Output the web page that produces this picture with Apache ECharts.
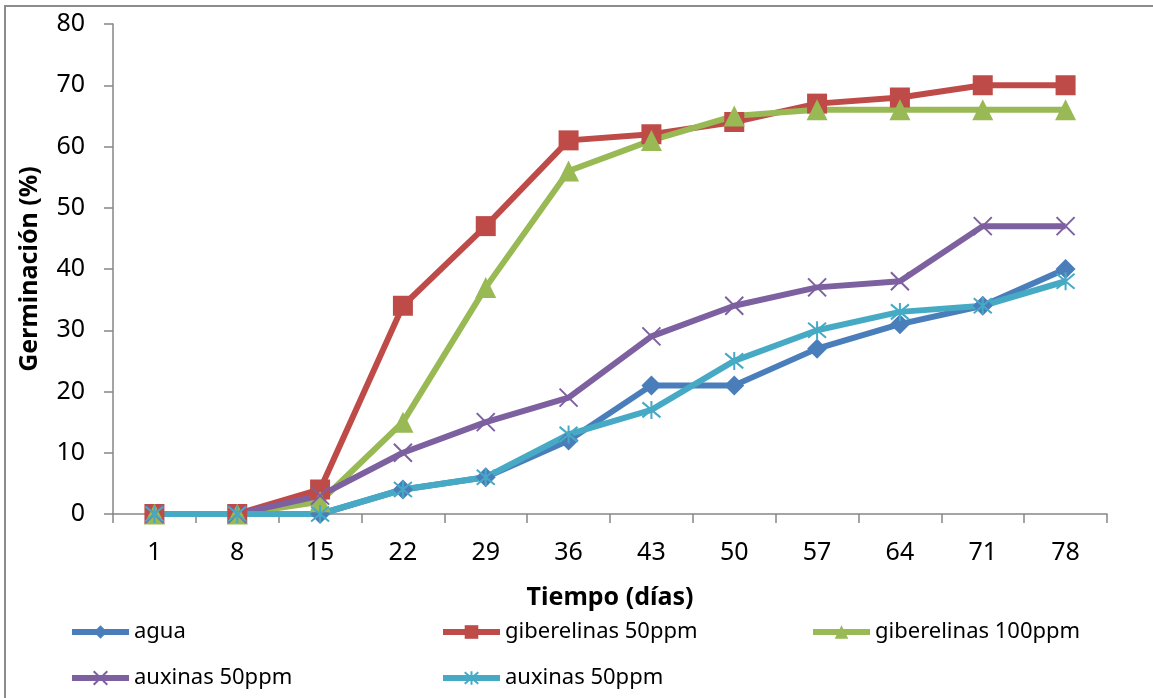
<!DOCTYPE html>
<html>
<head>
<meta charset="utf-8">
<script src="https://cdn.jsdelivr.net/npm/echarts@6/dist/echarts.min.js"></script>
<style>
  html, body { margin: 0; padding: 0; background: #ffffff; }
  #chart { width: 1153px; height: 698px; }
</style>
</head>
<body>
<div id="chart"></div>
<script>
// Days of observation
const dias = ['1', '8', '15', '22', '29', '36', '43', '50', '57', '64', '71', '78'];

// Germination (%) per treatment
const agua = [0, 0, 0, 4, 6, 12, 21, 21, 27, 31, 34, 40];
const giberelinas50 = [0, 0, 4, 34, 47, 61, 62, 64, 67, 68, 70, 70];
const giberelinas100 = [0, 0, 2, 15, 37, 56, 61, 65, 66, 66, 66, 66];
const auxinas50a = [0, 0, 3, 10, 15, 19, 29, 34, 37, 38, 47, 47];
const auxinas50b = [0, 0, 0, 4, 6, 13, 17, 25, 30, 33, 34, 38];

// Legend texts (two treatments share the same printed label)
const etiquetas = {
  s1: 'agua',
  s2: 'giberelinas 50ppm',
  s3: 'giberelinas 100ppm',
  s4: 'auxinas 50ppm',
  s5: 'auxinas 50ppm'
};

const yTicks = { min: 0, max: 80, interval: 10 };

const FONT = 'Noto Sans';
const AXIS_GRAY = '#868686';

const SYM_X = 'path://M0,0L20,20M20,0L0,20';
const SYM_STAR = 'path://M0,0L20,20M20,0L0,20M10,-2L10,22';

function lineSeries(id, data, color, symbol, size, stroke) {
  return {
    id: id,
    name: id,
    type: 'line',
    data: data,
    symbol: symbol,
    symbolSize: size,
    showAllSymbol: true,
    lineStyle: { color: color, width: 6 },
    itemStyle: stroke
      ? { color: color, borderColor: color, borderWidth: 2 }
      : { color: color },
    emphasis: { disabled: true },
    animation: false
  };
}

const legendText = {
  fontFamily: FONT,
  fontSize: 22,
  color: '#000',
  lineHeight: 24
};

// One legend component per entry, laid out in a three-column grid
function legendItem(left, top, name) {
  return {
    left: left,
    top: top,
    orient: 'horizontal',
    data: [name],
    itemWidth: 57,
    itemHeight: 17,
    itemGap: 0,
    padding: 0,
    lineStyle: { width: 6 },
    textStyle: legendText,
    formatter: function (n) { return etiquetas[n]; },
    selectedMode: false
  };
}

const chart = echarts.init(document.getElementById('chart'), null, { renderer: 'canvas' });

chart.setOption({
  backgroundColor: '#ffffff',
  animation: false,
  graphic: [{
    type: 'rect',
    shape: { x: 5, y: 6, width: 1170, height: 720 },
    style: { fill: 'none', stroke: '#8c8c8c', lineWidth: 2 },
    silent: true
  }],
  grid: { left: 113, right: 46, top: 24, bottom: 184 },
  xAxis: {
    type: 'category',
    data: dias,
    boundaryGap: true,
    name: 'Tiempo (días)',
    nameLocation: 'middle',
    nameGap: 71,
    nameTextStyle: { fontFamily: FONT, fontSize: 25, fontWeight: 'bold', color: '#000' },
    axisLine: { lineStyle: { color: AXIS_GRAY, width: 1.5 } },
    axisTick: { show: true, length: 9, inside: false, lineStyle: { color: AXIS_GRAY, width: 1.5 } },
    axisLabel: { fontFamily: FONT, fontSize: 25, color: '#000', margin: 26 },
    splitLine: { show: false }
  },
  yAxis: {
    type: 'value',
    min: yTicks.min,
    max: yTicks.max,
    interval: yTicks.interval,
    name: 'Germinación (%)',
    nameLocation: 'middle',
    nameGap: 71,
    nameRotate: 90,
    nameTextStyle: { fontFamily: FONT, fontSize: 25, fontWeight: 'bold', color: '#000' },
    axisLine: { show: true, lineStyle: { color: AXIS_GRAY, width: 1.5 } },
    axisTick: { show: true, length: 9, lineStyle: { color: AXIS_GRAY, width: 1.5 } },
    axisLabel: { fontFamily: FONT, fontSize: 25, color: '#000', margin: 28 },
    splitLine: { show: false }
  },
  legend: [
    legendItem(69, 620, 's1'),
    legendItem(440, 620, 's2'),
    legendItem(810, 620, 's3'),
    legendItem(69, 666, 's4'),
    legendItem(440, 666, 's5')
  ],
  series: [
    lineSeries('s1', agua, '#4A7EBB', 'diamond', 20, false),
    lineSeries('s2', giberelinas50, '#BE4B48', 'rect', 20, false),
    lineSeries('s3', giberelinas100, '#98B954', 'triangle', 21, false),
    lineSeries('s4', auxinas50a, '#7D60A0', SYM_X, 18, true),
    lineSeries('s5', auxinas50b, '#46AAC5', SYM_STAR, 18, true)
  ]
});
</script>
</body>
</html>
